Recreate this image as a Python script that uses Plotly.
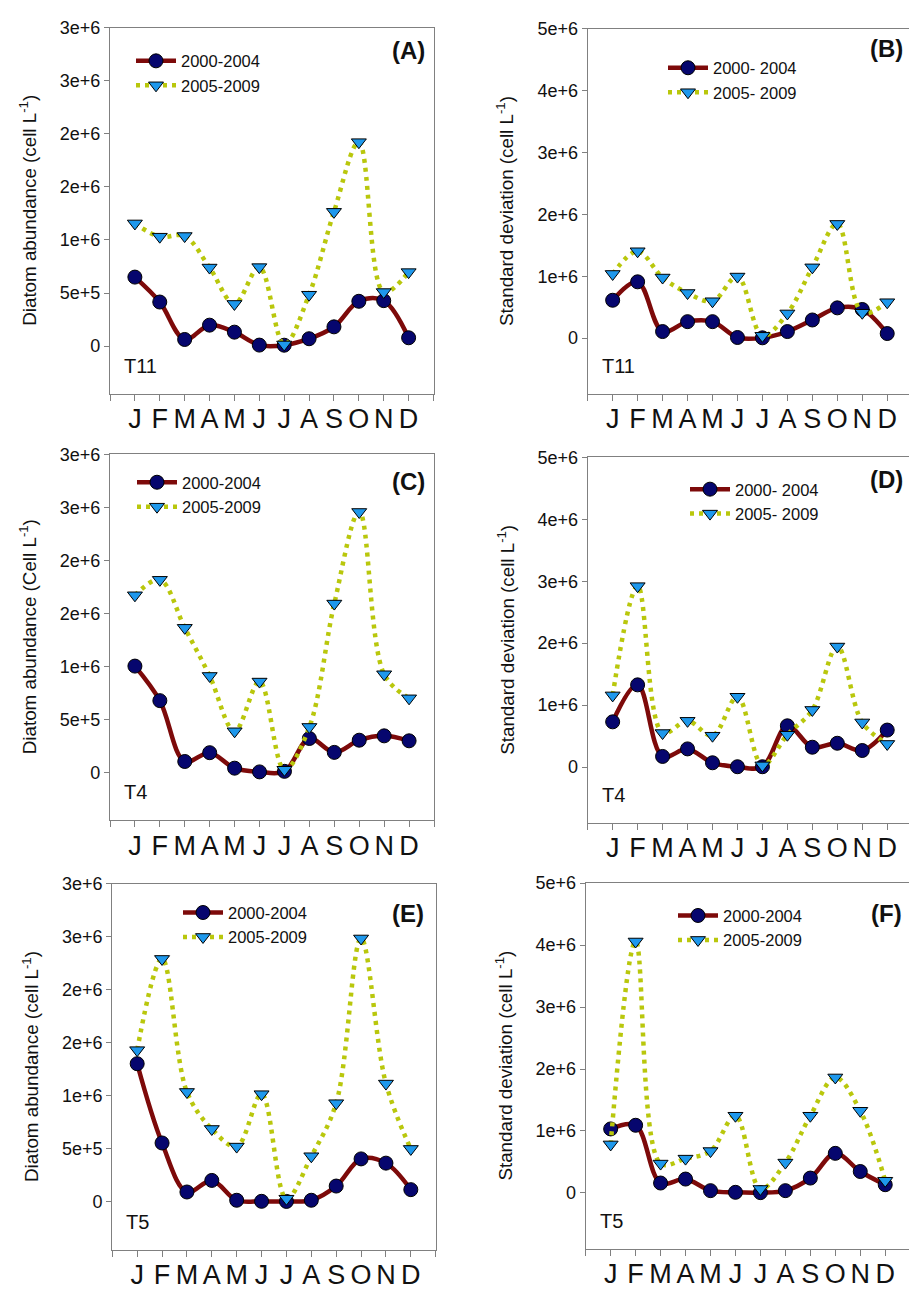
import plotly.graph_objects as go

W, H = 909, 1290

months = ["J", "F", "M", "A", "M", "J", "J", "A", "S", "O", "N", "D"]
month_pos = list(range(1, 13))

# (A) T11 mean diatom abundance
A_2000 = [650e3, 415e3, 62e3, 197e3, 131e3, 9e3, 8e3, 69e3, 181e3, 422e3, 428e3, 78e3]
A_2005 = [1156e3, 1031e3, 1037e3, 740e3, 397e3, 744e3, 15e3, 484e3, 1265e3, 1922e3, 509e3, 697e3]
# (B) T11 standard deviation
B_2000 = [612e3, 910e3, 106e3, 266e3, 266e3, 10e3, 5e3, 106e3, 293e3, 489e3, 463e3, 74e3]
B_2005 = [1037e3, 1404e3, 979e3, 729e3, 596e3, 995e3, 37e3, 399e3, 1144e3, 1846e3, 410e3, 580e3]
# (C) T4 mean diatom abundance
C_2000 = [1003e3, 677e3, 103e3, 186e3, 40e3, 5e3, 10e3, 320e3, 189e3, 304e3, 345e3, 298e3]
C_2005 = [1671e3, 1817e3, 1364e3, 910e3, 388e3, 857e3, 25e3, 429e3, 1593e3, 2457e3, 926e3, 699e3]
# (D) T4 standard deviation
D_2000 = [730e3, 1327e3, 171e3, 293e3, 69e3, 5e3, 5e3, 666e3, 320e3, 384e3, 267e3, 597e3]
D_2005 = [1157e3, 2921e3, 549e3, 746e3, 506e3, 1135e3, 27e3, 522e3, 922e3, 1946e3, 720e3, 373e3]
# (E) T5 mean diatom abundance
E_2000 = [1303e3, 556e3, 94e3, 203e3, 16e3, 6e3, 5e3, 16e3, 150e3, 406e3, 366e3, 116e3]
E_2005 = [1431e3, 2291e3, 1037e3, 688e3, 522e3, 1016e3, 31e3, 431e3, 931e3, 2484e3, 1116e3, 500e3]
# (F) T5 standard deviation
F_2000 = [1033e3, 1092e3, 160e3, 224e3, 37e3, 10e3, 5e3, 37e3, 240e3, 639e3, 346e3, 133e3]
F_2005 = [783e3, 4058e3, 474e3, 554e3, 676e3, 1246e3, 64e3, 490e3, 1246e3, 1864e3, 1326e3, 197e3]

mean_tickvals = [0, 5e5, 1e6, 1.5e6, 2e6, 2.5e6, 3e6]
mean_ticktext = ["0", "5e+5", "1e+6", "2e+6", "2e+6", "3e+6", "3e+6"]
sd_tickvals = [0, 1e6, 2e6, 3e6, 4e6, 5e6]
sd_ticktext = ["0", "1e+6", "2e+6", "3e+6", "4e+6", "5e+6"]

FONT = "Liberation Sans, Arial, sans-serif"
RED = "#7d0a0a"
NAVY = "#06066e"
YG = "#b9c70c"
BLUE = "#1e98ec"
FRAME = "#808080"


def px(x):
    return x / W


def py(y):
    return 1 - y / H


# geometry in pixels: box=(left, right, top, bottom); leg=(left, top); tag=(right, middle)
panels = [
    dict(key="A", s1=A_2000, s2=A_2005, kind="mean", site="T11", box=(110, 433.5, 18, 388),
         leg=(131, 34), tag=(427, 41), names=("2000-2004", "2005-2009"),
         ylab="Diatom abundance (cell L<sup>-1</sup>)"),
    dict(key="B", s1=B_2000, s2=B_2005, kind="sd", site="T11", box=(587.7, 909, 19, 388),
         leg=(663, 41), tag=(905, 39), names=("2000- 2004", "2005- 2009"),
         ylab="Standard deviation (cell L<sup>-1</sup>)"),
    dict(key="C", s1=C_2000, s2=C_2005, kind="mean", site="T4", box=(110, 434, 449.3, 819),
         leg=(132, 460), tag=(427, 477), names=("2000-2004", "2005-2009"),
         ylab="Diatom abundance (Cell L<sup>-1</sup>)"),
    dict(key="D", s1=D_2000, s2=D_2005, kind="sd", site="T4", box=(587.7, 909, 452.3, 821.7),
         leg=(685, 467), tag=(905, 475), names=("2000- 2004", "2005- 2009"),
         ylab="Standard deviation (cell L<sup>-1</sup>)"),
    dict(key="E", s1=E_2000, s2=E_2005, kind="mean", site="T5", box=(112.3, 435.7, 883.3, 1253.3),
         leg=(178, 895), tag=(426, 913), names=("2000-2004", "2005-2009"),
         ylab="Diatom abundance (cell L<sup>-1</sup>)"),
    dict(key="F", s1=F_2000, s2=F_2005, kind="sd", site="T5", box=(585.7, 909, 882.7, 1252.3),
         leg=(673, 898), tag=(904, 913), names=("2000-2004", "2005-2009"),
         ylab="Standard deviation (cell L<sup>-1</sup>)"),
]

fig = go.Figure()
annotations = []
layout = {}

for i, p in enumerate(panels):
    n = i + 1
    sfx = "" if n == 1 else str(n)
    legname = "legend" if n == 1 else f"legend{n}"
    xa, ya = f"x{sfx}", f"y{sfx}"
    fig.add_trace(go.Scatter(
        x=month_pos, y=p["s1"], name=p["names"][0], mode="lines+markers",
        line=dict(color=RED, width=4.5, shape="spline", smoothing=1.0),
        marker=dict(symbol="circle", size=14, color=NAVY, line=dict(color="black", width=1)),
        xaxis=xa, yaxis=ya, legend=legname))
    fig.add_trace(go.Scatter(
        x=month_pos, y=p["s2"], name=p["names"][1], mode="lines+markers",
        line=dict(color=YG, width=4.5, shape="spline", smoothing=1.0, dash="4px,5px"),
        marker=dict(symbol="triangle-down", size=13, color=BLUE, line=dict(color="black", width=1)),
        xaxis=xa, yaxis=ya, legend=legname))

    l, r, t, b = p["box"]
    is_sd = p["kind"] == "sd"
    xr_end = 13 if not is_sd else (r - l) / 24.96
    layout[f"xaxis{sfx}"] = dict(
        domain=[px(l), px(r)], anchor=ya, range=[0, xr_end],
        tickvals=month_pos, ticktext=months,
        ticks="outside", ticklen=6, tickcolor=FRAME, tickwidth=1,
        minor=dict(tick0=0, dtick=1, ticks="outside", ticklen=6, tickcolor=FRAME,
                   tickwidth=1, showgrid=False),
        ticklabelstandoff=-5,
        showline=True, linecolor=FRAME, linewidth=1.2, mirror=True,
        showgrid=False, zeroline=False, fixedrange=True,
        tickfont=dict(family=FONT, size=27, color="#111"))
    layout[f"yaxis{sfx}"] = dict(
        domain=[py(b), py(t)], anchor=xa,
        range=[-9e5, 5e6] if is_sd else [-4.5e5, 3e6],
        tickvals=sd_tickvals if is_sd else mean_tickvals,
        ticktext=sd_ticktext if is_sd else mean_ticktext,
        ticks="outside", ticklen=5, tickcolor=FRAME, tickwidth=1,
        showline=True, linecolor=FRAME, linewidth=1.2, mirror=not is_sd,
        showgrid=False, zeroline=False, fixedrange=True,
        tickfont=dict(family=FONT, size=18, color="#111"))
    lx, ly = p["leg"]
    layout[legname] = dict(
        x=px(lx), y=py(ly), xanchor="left", yanchor="top", bgcolor="rgba(0,0,0,0)",
        borderwidth=0, itemwidth=40, tracegroupgap=0,
        font=dict(family=FONT, size=16.5, color="#111"))

    tx, ty = p["tag"]
    annotations.append(dict(
        text=f"<b>({p['key']})</b>", x=px(tx), y=py(ty),
        xref="paper", yref="paper", xanchor="right", yanchor="middle", showarrow=False,
        font=dict(family=FONT, size=24, color="#111")))
    annotations.append(dict(
        text=p["site"], x=px(l + 12), y=py(b - 28),
        xref="paper", yref="paper", xanchor="left", yanchor="middle", showarrow=False,
        font=dict(family=FONT, size=20, color="#111")))
    annotations.append(dict(
        text=p["ylab"], x=px(l - 82), y=py((t + b) / 2),
        xref="paper", yref="paper", xanchor="center", yanchor="middle", showarrow=False,
        textangle=-90, font=dict(family=FONT, size=18.8, color="#111")))

fig.update_layout(
    width=W, height=H, margin=dict(l=0, r=0, t=0, b=0),
    paper_bgcolor="white", plot_bgcolor="white",
    showlegend=True, annotations=annotations, **layout)

fig.write_html("out.html", config={"displayModeBar": False},
               post_script="document.body.style.margin='0px';"
                           "document.documentElement.style.overflow='hidden';")
